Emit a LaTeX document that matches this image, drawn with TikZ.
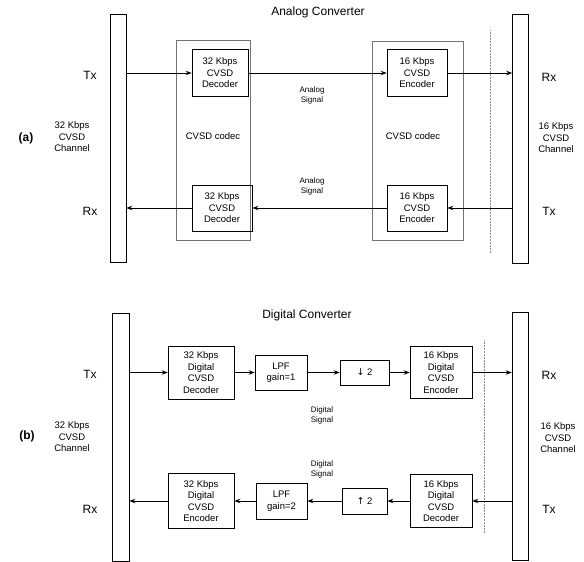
\documentclass[tikz,border=0pt]{standalone}
\usepackage{fontspec}
\setmainfont{Liberation Sans}
\newfontfamily\symfont{DejaVu Sans}
\usepackage{tikz}
\usetikzlibrary{arrows.meta, positioning}

\begin{document}
\begin{tikzpicture}[
  x=1pt, y=-1pt,
  chbar/.style={draw, line width=0.6pt, minimum width=16pt, inner sep=0pt},
  codec/.style={draw=black!55, line width=0.6pt, inner sep=0pt},
  blk/.style={draw, line width=0.6pt, inner sep=0pt, align=center,
              font=\fontsize{9.5}{11.5}\selectfont},
  lbl/.style={align=center, font=\fontsize{9.5}{11.5}\selectfont},
  sig/.style={align=center, font=\fontsize{8}{10}\selectfont},
  port/.style={font=\fontsize{12}{14}\selectfont},
  title/.style={font=\fontsize{12}{14}\selectfont},
  tag/.style={font=\fontsize{12}{14}\selectfont\bfseries},
  arrow/.style={-{Stealth[length=6pt,width=4.5pt]}, line width=1pt},
  dotline/.style={black!45, densely dotted, line width=0.5pt}
]
  \useasboundingbox (0,0) rectangle (584,562);

  % (a) analog converter
  \node[title] (titA) at (318,12) {Analog Converter};
  \node[tag] (tagA) at (26,138) {(a)};
  \node[chbar, minimum height=248pt] (chA1) at (118,138) {};
  \node[chbar, minimum height=249pt] (chA2) at (520.5,138.5) {};
  \node[codec, minimum width=74pt, minimum height=200pt] (codA1) at (213,140) {};
  \node[codec, minimum width=91pt, minimum height=199pt] (codA2) at (417.5,140.5) {};
  \node[lbl] at (213,136) {CVSD codec};
  \node[lbl] at (413,136) {CVSD codec};

  \node[blk, minimum width=56pt, minimum height=47pt] (decA1) at (220,73) {32 Kbps\\CVSD\\Decoder};
  \node[blk, minimum width=60pt, minimum height=46pt] (decA2) at (222,208) {32 Kbps\\CVSD\\Decoder};
  \node[blk, minimum width=60pt, minimum height=47pt] (encA1) at (417,73) {16 Kbps\\CVSD\\Encoder};
  \node[blk, minimum width=60pt, minimum height=46pt] (encA2) at (417,208) {16 Kbps\\CVSD\\Encoder};

  \node[port] (txA1) at (90,75) {Tx};
  \node[port] (rxA1) at (90,211) {Rx};
  \node[port] (rxA2) at (549,77) {Rx};
  \node[port] (txA2) at (549,211) {Tx};
  \node[lbl] (chanA1) at (72,137) {32 Kbps\\CVSD\\Channel};
  \node[lbl] (chanA2) at (556,138) {16 Kbps\\CVSD\\Channel};
  \node[sig] (sigA1) at (312,95) {Analog\\Signal};
  \node[sig] (sigA2) at (312,186) {Analog\\Signal};

  \draw[dotline] (490,30) -- (490,253);

  \draw[arrow] (chA1.east |- decA1) -- (decA1);
  \draw[arrow] (decA1) -- (encA1);
  \draw[arrow] (encA1) -- (chA2.west |- encA1);
  \draw[arrow] (chA2.west |- encA2) -- (encA2);
  \draw[arrow] (encA2) -- (decA2);
  \draw[arrow] (decA2) -- (chA1.east |- decA2);

  % (b) digital converter
  \node[title] (titB) at (307,315) {Digital Converter};
  \node[tag] (tagB) at (27,436) {(b)};
  \node[chbar, minimum width=17pt, minimum height=248pt] (chB1) at (120.5,437) {};
  \node[chbar, minimum height=248pt] (chB2) at (520,436) {};

  \node[blk, minimum width=66pt, minimum height=53pt] (decB1) at (201,372.5) {32 Kbps\\Digital\\CVSD\\Decoder};
  \node[blk, minimum width=52pt, minimum height=35pt] (lpfB1) at (281,372.5) {LPF\\gain=1};
  \node[blk, minimum width=49pt, minimum height=25pt] (dnB) at (364.5,372.5) {{\symfont ↓}\ 2};
  \node[blk, minimum width=62pt, minimum height=52pt] (encB1) at (441,372.5) {16 Kbps\\Digital\\CVSD\\Encoder};

  \node[blk, minimum width=66pt, minimum height=55pt] (encB2) at (201,501) {32 Kbps\\Digital\\CVSD\\Encoder};
  \node[blk, minimum width=51pt, minimum height=36pt] (lpfB2) at (281.5,501) {LPF\\gain=2};
  \node[blk, minimum width=45pt, minimum height=26pt] (upB) at (364.5,501) {{\symfont ↑}\ 2};
  \node[blk, minimum width=62pt, minimum height=53pt] (decB2) at (441,501) {16 Kbps\\Digital\\CVSD\\Decoder};

  \node[port] (txB1) at (90,374) {Tx};
  \node[port] (rxB1) at (90,509) {Rx};
  \node[port] (rxB2) at (549,375) {Rx};
  \node[port] (txB2) at (549,509) {Tx};
  \node[lbl] (chanB1) at (72,437) {32 Kbps\\CVSD\\Channel};
  \node[lbl] (chanB2) at (558,438) {16 Kbps\\CVSD\\Channel};
  \node[sig] (sigB1) at (322,415) {Digital\\Signal};
  \node[sig] (sigB2) at (322,469) {Digital\\Signal};

  \draw[dotline] (484,340) -- (484,533);

  \draw[arrow] (chB1.east |- decB1) -- (decB1);
  \draw[arrow] (decB1) -- (lpfB1);
  \draw[arrow] (lpfB1) -- (dnB);
  \draw[arrow] (dnB) -- (encB1);
  \draw[arrow] (encB1) -- (chB2.west |- encB1);
  \draw[arrow] (chB2.west |- decB2) -- (decB2);
  \draw[arrow] (decB2) -- (upB);
  \draw[arrow] (upB) -- (lpfB2);
  \draw[arrow] (lpfB2) -- (encB2);
  \draw[arrow] (encB2) -- (chB1.east |- encB2);
\end{tikzpicture}
\end{document}
